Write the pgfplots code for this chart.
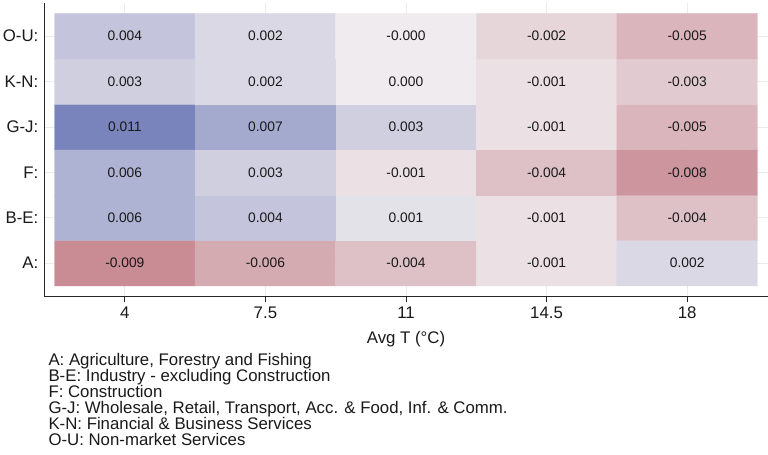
\documentclass[border=0pt]{standalone}
\usepackage{pgfplots}
\pgfplotsset{compat=1.18}
\usepackage{pgfplotstable}
\usepackage{fontspec}
\setmainfont{Liberation Sans}

% Effect of temperature by sector: x = Avg T, y = sector row, v = effect, lab = printed value
\pgfplotstableread{
x    y  v       lab
4    1  -0.009  -0.009
7.5  1  -0.006  -0.006
11   1  -0.004  -0.004
14.5 1  -0.001  -0.001
18   1   0.002   0.002
4    2   0.006   0.006
7.5  2   0.004   0.004
11   2   0.001   0.001
14.5 2  -0.001  -0.001
18   2  -0.004  -0.004
4    3   0.006   0.006
7.5  3   0.003   0.003
11   3  -0.001  -0.001
14.5 3  -0.004  -0.004
18   3  -0.008  -0.008
4    4   0.011   0.011
7.5  4   0.007   0.007
11   4   0.003   0.003
14.5 4  -0.001  -0.001
18   4  -0.005  -0.005
4    5   0.003   0.003
7.5  5   0.002   0.002
11   5   0.000   0.000
14.5 5  -0.001  -0.001
18   5  -0.003  -0.003
4    6   0.004   0.004
7.5  6   0.002   0.002
11   6  -0.000  -0.000
14.5 6  -0.002  -0.002
18   6  -0.005  -0.005
}\effects

\newcommand{\bigfont}{\fontsize{16.8bp}{17bp}\selectfont}
\newcommand{\cellfont}{\fontsize{13.8bp}{14bp}\selectfont}

\begin{document}
\begin{tikzpicture}
\useasboundingbox (0,0) rectangle (768bp,-455bp);
\begin{axis}[
  at={(44.5bp,-296.3bp)}, anchor=south west,
  width=723bp, height=292.8bp, scale only axis,
  xmin=2, xmax=20, ymin=0.27, ymax=6.72,
  axis x line=bottom, axis y line=left,
  axis line style={-, line width=0.9bp, black!85},
  xtick={4,7.5,11,14.5,18},
  ytick={1,2,3,4,5,6},
  yticklabels={A:,B-E:,F:,G-J:,K-N:,O-U:},
  tick align=outside,
  x tick style={black!85, line width=0.8bp},
  y tick style={draw=none},
  major tick length=6bp,
  grid=major,
  major grid style={black!8, line width=0.8bp},
  /pgf/number format/assume math mode=true,
  tick label style={font=\bigfont, text=black!90},
  xticklabel style={anchor=base, inner sep=0pt, yshift=-16bp},
  yticklabel style={anchor=east, inner sep=0pt, xshift=0bp},
  xlabel={Avg T (°C)},
  xlabel style={at={(axis description cs:0.5,0)}, anchor=base, inner sep=0pt,
    yshift=-47bp, font=\bigfont, text=black!90},
  colormap={redblue}{rgb255(0cm)=(188,108,119); rgb255(1cm)=(239,235,238); rgb255(2cm)=(111,122,183)},
  point meta min=-0.012, point meta max=0.012,
]
% coloured cells
\addplot[matrix plot*, mesh/cols=5, point meta=explicit]
  table[x=x, y=y, meta=v] {\effects};
% printed values in the cell centres
\addplot[only marks, mark=none, point meta=explicit symbolic,
  nodes near coords,
  nodes near coords style={anchor=center, font=\cellfont, text=black!90}]
  table[x=x, y=y, meta=lab] {\effects};
\end{axis}
% sector key below the axis
\foreach \t [count=\i from 0] in {
  {A: Agriculture, Forestry and Fishing},
  {B-E: Industry - excluding Construction},
  {F: Construction},
  {G-J: Wholesale, Retail, Transport, Acc. \& Food, Inf. \& Comm.},
  {K-N: Financial \& Business Services},
  {O-U: Non-market Services}}
  \node[anchor=base west, inner sep=0pt, font=\bigfont, text=black!90]
    at (48.3bp,{-365bp-16bp*\i}) {\t};
\end{tikzpicture}
\end{document}
